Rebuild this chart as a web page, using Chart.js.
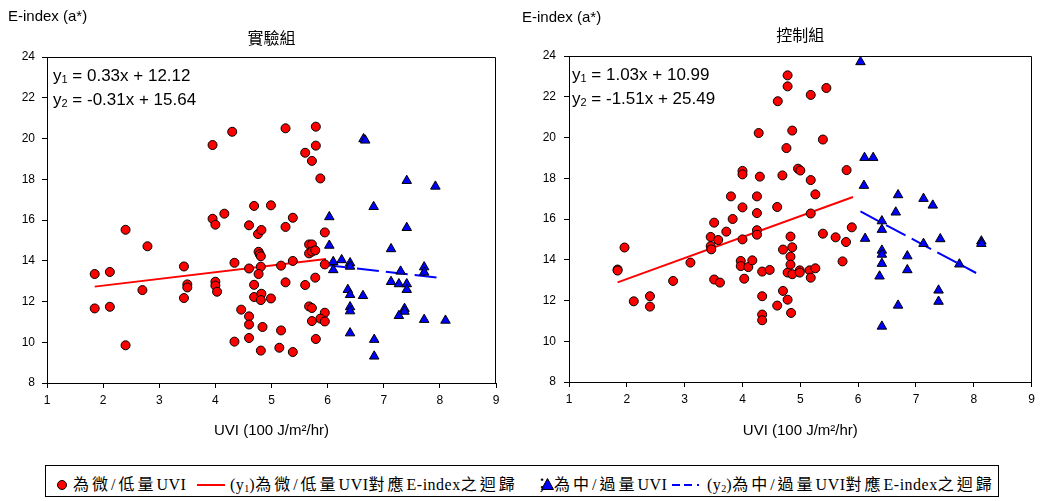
<!DOCTYPE html>
<html>
<head>
<meta charset="utf-8">
<script src="https://cdn.jsdelivr.net/npm/chart.js@4.4.0/dist/chart.umd.min.js"></script>
<style>
  body { margin: 0; background: #fff; width: 1040px; height: 501px; position: relative; overflow: hidden; }
  .box { position: absolute; top: 0; width: 520px; height: 450px; }
  #legend { position: absolute; left: 45px; top: 465px; width: 952px; height: 30px; border: 1px solid #000; }
  .lg { position: absolute; top: 475px; height: 20px; line-height: 20px; font-size: 16px; letter-spacing: 3px; white-space: nowrap;
        font-family: "Liberation Serif", "Noto Sans CJK TC", serif; color: #000; }
  .lg .lt { letter-spacing: 0.5px; }
  .lg sub { font-size: 10px; vertical-align: -2px; letter-spacing: 0; }
</style>
</head>
<body>
<div class="box" style="left:0"><canvas id="expChart" width="520" height="450"></canvas></div>
<div class="box" style="left:520px"><canvas id="ctrlChart" width="520" height="450"></canvas></div>

<div id="legend"></div>
<div style="position:absolute;left:57px;top:480px;width:8px;height:8px;border-radius:50%;background:#ff0000;border:1px solid #000"></div>
<span class="lg" style="left:73px">為微/低量<span class="lt">UVI</span></span>
<div style="position:absolute;left:197px;top:484px;width:28px;height:2px;background:#ff0000"></div>
<span class="lg" style="left:230px"><span class="lt">(y<sub>1</sub>)</span>為微/低量<span class="lt">UVI</span>對應<span class="lt">E-index</span>之迴歸</span>
<span class="lg" style="left:534px">；</span>
<svg style="position:absolute;left:541px;top:478px" width="13" height="12"><polygon points="6.5,0.5 12.5,11.5 0.5,11.5" fill="#0000ff" stroke="#000" stroke-width="1"/></svg>
<span class="lg" style="left:554px">為中/過量<span class="lt">UVI</span></span>
<svg style="position:absolute;left:671px;top:480px" width="32" height="10"><line x1="1" y1="5" x2="30" y2="5" stroke="#0000ff" stroke-width="2" stroke-dasharray="8,4,8,5,2"/></svg>
<span class="lg" style="left:707px"><span class="lt">(y<sub>2</sub>)</span>為中/過量<span class="lt">UVI</span>對應<span class="lt">E-index</span>之迴歸</span>

<script>
// axis ranges
const xRange = [1, 9];
const yRange = [8, 24];
const xStep = 1;
const yStep = 2;

// 實驗組: 微/低量UVI (red circles)
const expLow = [
  [1.85, 13.35], [1.85, 11.66], [2.12, 13.45], [2.12, 11.74], [2.40, 15.52], [2.40, 9.85],
  [2.70, 12.56], [2.79, 14.71], [3.44, 13.72], [3.50, 12.84], [3.50, 12.69], [3.44, 12.17],
  [3.95, 19.68], [4.30, 20.33], [3.95, 16.06], [4.00, 15.77], [4.16, 16.31], [4.00, 12.97],
  [4.00, 12.78], [4.03, 12.48], [4.34, 13.90], [4.34, 10.03], [4.46, 11.60], [4.60, 11.27],
  [4.60, 10.87], [4.60, 10.21], [4.60, 15.74], [4.69, 16.69], [4.99, 16.72], [4.60, 13.62],
  [4.69, 12.82], [4.69, 12.22], [4.76, 15.31], [4.82, 15.51], [4.77, 14.44], [4.79, 14.32],
  [4.81, 14.22], [4.81, 13.71], [4.77, 13.35], [4.82, 12.38], [4.81, 12.07], [4.99, 12.15],
  [4.84, 10.75], [4.81, 9.59], [5.25, 20.50], [5.25, 15.66], [5.17, 13.76], [5.25, 12.94],
  [5.17, 10.58], [5.14, 9.73], [5.79, 20.58], [5.79, 19.65], [5.60, 19.30], [5.72, 18.90],
  [5.87, 18.04], [5.38, 16.11], [5.95, 15.39], [5.67, 14.80], [5.72, 14.80], [5.67, 14.36],
  [5.72, 14.45], [5.78, 14.51], [5.38, 13.99], [5.95, 13.82], [5.78, 13.17], [5.60, 12.81],
  [5.67, 11.76], [5.72, 11.68], [5.95, 11.45], [5.87, 11.16], [5.95, 11.02], [5.72, 11.04],
  [5.79, 10.16], [5.38, 9.52]
];
// 實驗組: 中/過量UVI (blue triangles)
const expHigh = [
  [6.64, 19.98], [6.67, 19.91], [7.41, 17.93], [7.92, 17.65], [6.82, 16.65], [6.03, 16.15],
  [7.41, 15.62], [6.03, 14.75], [7.13, 14.58], [6.10, 13.95], [6.25, 14.04], [6.40, 13.89],
  [6.40, 13.72], [6.10, 13.55], [7.72, 13.69], [7.72, 13.43], [7.30, 13.48], [7.13, 12.97],
  [7.27, 12.86], [7.41, 12.86], [7.41, 12.58], [6.36, 12.58], [6.40, 12.33], [6.63, 12.28],
  [6.40, 11.73], [6.40, 11.53], [7.37, 11.65], [7.37, 11.51], [7.27, 11.30], [7.72, 11.11],
  [8.10, 11.07], [6.40, 10.45], [6.83, 10.13], [6.83, 9.31]
];
// regression line end points, 實驗組
const expLowFit = [[1.85, 12.73], [5.97, 14.09]];
const expHighFit = [[6.01, 13.78], [8.02, 13.15]];
const expEqs = [['1', ' = 0.33x + 12.12'], ['2', ' = -0.31x + 15.64']];

// 控制組: 微/低量UVI
const ctrlLow = [
  [1.84, 13.52], [1.84, 13.47], [1.96, 14.60], [2.12, 11.96], [2.40, 12.21], [2.40, 11.70],
  [2.80, 12.96], [3.10, 13.86], [3.45, 15.12], [3.45, 14.67], [3.46, 14.51], [3.51, 15.82],
  [3.51, 13.03], [3.58, 14.97], [3.61, 12.88], [3.72, 15.38], [3.80, 17.11], [3.83, 16.00],
  [3.97, 13.94], [3.97, 13.69], [4.00, 18.36], [4.00, 18.19], [4.00, 16.57], [4.00, 15.00],
  [4.03, 13.07], [4.10, 13.64], [4.17, 13.97], [4.25, 17.11], [4.25, 16.29], [4.25, 15.45],
  [4.25, 15.23], [4.28, 20.22], [4.30, 18.08], [4.34, 13.42], [4.34, 12.21], [4.34, 11.31],
  [4.34, 11.03], [4.47, 13.50], [4.60, 16.59], [4.60, 11.75], [4.61, 21.78], [4.69, 18.14],
  [4.70, 14.50], [4.70, 12.47], [4.76, 19.48], [4.78, 23.05], [4.78, 22.51], [4.78, 13.37],
  [4.78, 12.04], [4.83, 15.14], [4.83, 14.15], [4.83, 13.76], [4.84, 11.39], [4.86, 20.34],
  [4.86, 14.61], [4.86, 13.29], [4.96, 18.47], [5.00, 18.38], [4.99, 13.48], [4.99, 13.37],
  [5.16, 13.48], [5.18, 22.09], [5.18, 17.91], [5.18, 16.27], [5.18, 13.12], [5.26, 17.21],
  [5.26, 13.58], [5.39, 19.90], [5.39, 15.28], [5.45, 22.43], [5.61, 15.10], [5.73, 13.92],
  [5.79, 14.87], [5.80, 18.40], [5.89, 15.59]
];
// 控制組: 中/過量UVI
const ctrlHigh = [
  [6.04, 23.71], [6.11, 19.01], [6.26, 19.01], [6.10, 17.64], [6.69, 17.18], [7.13, 17.00],
  [7.29, 16.67], [6.65, 16.33], [6.41, 15.90], [6.41, 15.48], [6.12, 15.04], [7.42, 15.02],
  [7.13, 14.79], [8.13, 14.91], [8.13, 14.79], [6.41, 14.46], [6.41, 14.26], [6.85, 14.18],
  [6.41, 13.81], [7.75, 13.78], [6.85, 13.50], [6.37, 13.19], [7.39, 12.50], [7.39, 11.95],
  [6.69, 11.76], [6.41, 10.73]
];
const ctrlLowFit = [[1.84, 12.89], [5.91, 17.08]];
const ctrlHighFit = [[6.04, 16.37], [8.04, 13.35]];
const ctrlEqs = [['1', ' = 1.03x + 10.99'], ['2', ' = -1.51x + 25.49']];

const sans = '"Liberation Sans", Arial, sans-serif';

function toXY(list) {
  return list.map(p => ({ x: p[0], y: p[1] }));
}

function drawEq(ctx, x, y, sub, rest) {
  ctx.font = '17px ' + sans;
  ctx.fillText('y', x, y);
  let w = ctx.measureText('y').width;
  ctx.font = '11px ' + sans;
  ctx.fillText(sub, x + w, y + 2);
  w += ctx.measureText(sub).width;
  ctx.font = '17px ' + sans;
  ctx.fillText(rest, x + w, y);
}

const decor = {
  id: 'decor',
  afterDraw(chart) {
    const o = chart.options.plugins.decor;
    const ctx = chart.ctx;
    const a = chart.chartArea;
    ctx.save();
    // top and right frame
    ctx.strokeStyle = '#000';
    ctx.lineWidth = 1;
    const t = Math.round(a.top) + 0.5;
    const r = Math.round(a.right) - 0.5;
    ctx.beginPath();
    ctx.moveTo(a.left, t);
    ctx.lineTo(r, t);
    ctx.lineTo(r, a.bottom);
    ctx.stroke();

    ctx.fillStyle = '#000';
    ctx.textAlign = 'left';
    ctx.textBaseline = 'alphabetic';
    ctx.font = '15px ' + sans;
    ctx.fillText('E-index (a*)', o.labelX, o.labelY);

    ctx.textAlign = 'center';
    ctx.textBaseline = 'middle';
    ctx.font = '16px "Noto Sans CJK TC", sans-serif';
    ctx.fillText(o.title, (a.left + a.right) / 2, o.titleY);

    ctx.textAlign = 'left';
    ctx.textBaseline = 'alphabetic';
    o.eqs.forEach((eq, i) => drawEq(ctx, a.left + o.eqX, a.top + 24 + 24 * i, eq[0], eq[1]));
    ctx.restore();
  }
};

function makeChart(id, low, high, lowFit, highFit, g) {
  const axisFont = { family: sans, size: 12 };
  const grid = { drawOnChartArea: false, drawTicks: true, tickLength: 5, color: '#000', lineWidth: 1 };
  return new Chart(document.getElementById(id), {
    type: 'scatter',
    data: {
      datasets: [
        { data: toXY(low), pointStyle: 'circle', pointRadius: 4.5, backgroundColor: '#ff0000',
          borderColor: '#000', borderWidth: 1, order: 1 },
        { data: toXY(high), pointStyle: 'triangle', pointRadius: 5.5, backgroundColor: '#0000ff',
          borderColor: '#000', borderWidth: 1, order: 1 },
        { data: toXY(lowFit), showLine: true, pointRadius: 0, borderColor: '#ff0000', borderWidth: 2, order: 2 },
        { data: toXY(highFit), showLine: true, pointRadius: 0, borderColor: '#0000ff', borderWidth: 2,
          borderDash: [22, 7], order: 2 }
      ]
    },
    options: {
      responsive: false,
      animation: false,
      layout: { padding: { top: g.top, right: g.right, left: 0, bottom: 0 } },
      plugins: {
        legend: { display: false },
        tooltip: { enabled: false },
        decor: g
      },
      scales: {
        x: {
          type: 'linear', min: xRange[0], max: xRange[1],
          ticks: { stepSize: xStep, color: '#000', font: axisFont, padding: 5, maxRotation: 0 },
          grid: grid,
          border: { color: '#000', width: 1 },
          title: { display: true, text: 'UVI (100 J/m²/hr)', color: '#000', font: { family: sans, size: 15 },
                   padding: { top: 0, bottom: 10 } },
          afterFit(s) { s.height = g.xHeight; }
        },
        y: {
          type: 'linear', min: yRange[0], max: yRange[1],
          ticks: { stepSize: yStep, color: '#000', font: axisFont, padding: g.yPad },
          grid: grid,
          border: { color: '#000', width: 1 },
          afterFit(s) { s.width = g.yWidth; }
        }
      }
    },
    plugins: [decor]
  });
}

makeChart('expChart', expLow, expHigh, expLowFit, expHighFit, {
  top: 57, right: 24, xHeight: 67, yWidth: 47, yPad: 7,
  labelX: 8, labelY: 21, title: '實驗組', titleY: 37.5, eqs: expEqs, eqX: 6
});
makeChart('ctrlChart', ctrlLow, ctrlHigh, ctrlLowFit, ctrlHighFit, {
  top: 56, right: 6, xHeight: 68, yWidth: 49, yPad: 8,
  labelX: 2, labelY: 22, title: '控制組', titleY: 34.5, eqs: ctrlEqs, eqX: 3
});
</script>
</body>
</html>
